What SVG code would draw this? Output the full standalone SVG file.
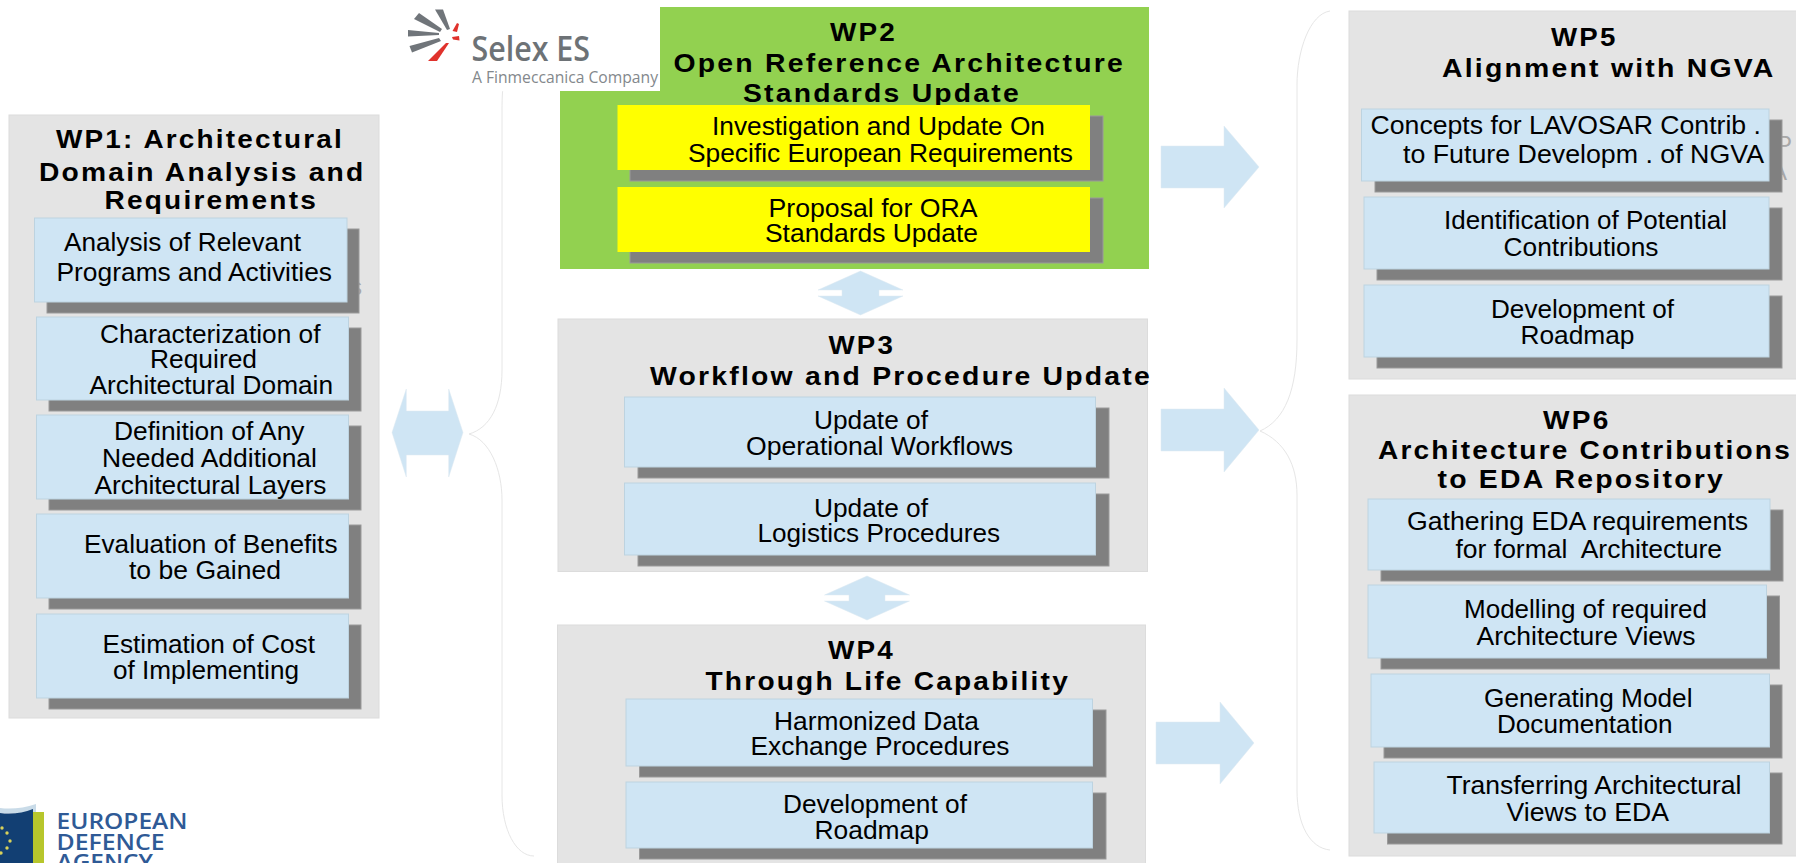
<svg xmlns="http://www.w3.org/2000/svg" width="1796" height="863" viewBox="0 0 1796 863">
<style>
text{font-family:"Liberation Sans",Arial,sans-serif;fill:#000}
.t{font-size:25.5px;font-weight:700;letter-spacing:2px}
.b{font-size:25.5px}
.panel{fill:#e4e4e4;stroke:#dcdcdc;stroke-width:1}
.box{fill:#cfe5f4;stroke:#bdd3e0;stroke-width:1}
.ybox{fill:#ffff00}
.sh{fill:#808080;stroke:#9a9a9a;stroke-width:1}
.arrow{fill:#cfe5f4;stroke:#dde9f1;stroke-width:.5}
.brace{fill:none;stroke:#e6e6e6;stroke-width:1}
.frag{font-size:24px;fill:#a8a8a8}
.logo{font-family:"Open Sans","Liberation Sans",sans-serif}
.eda{font-family:"Open Sans","Liberation Sans",sans-serif;font-size:21px;font-weight:600;fill:#2f5a96}
</style>
<rect width="1796" height="863" fill="#fff"/>

<g id="connectors">
<path class="brace" d="M534 12C514 12 502 60 502 110V370C502 405 490 428 469 434C490 440 502 470 502 500V795C502 830 516 856 534 856"/>
<path class="brace" d="M1330 11C1310 14 1297 50 1297 85V340C1297 390 1285 420 1260 431C1285 442 1297 465 1297 495V790C1297 825 1310 848 1330 850"/>
<polygon class="arrow" points="392,432.5 406.3,389 406.3,411 448.7,411 448.7,389 463,432.5 448.7,477 448.7,455 406.3,455 406.3,477"/>
<polygon class="arrow" points="860.5,271 903,290 879,290 879,296 903,296 860.5,315 818,296 842,296 842,290 818,290"/>
<polygon class="arrow" points="867,576 909.5,595 885,595 885,601 909.5,601 867,620 824.5,601 849,601 849,595 824.5,595"/>
<polygon class="arrow" points="1161,146 1224,146 1224,126 1259,167 1224,208 1224,188 1161,188"/>
<polygon class="arrow" points="1161,409 1224,409 1224,388 1259,430 1224,472 1224,451 1161,451"/>
<polygon class="arrow" points="1156,722 1220,722 1220,702 1254,743 1220,784 1220,764 1156,764"/>
</g>

<g id="wp1">
<rect class="panel" x="9" y="115" width="370" height="603"/>
<text class="t" x="56" y="147.5" textLength="288" lengthAdjust="spacingAndGlyphs">WP1: Architectural</text>
<text class="t" x="39" y="181" textLength="326.500" lengthAdjust="spacingAndGlyphs">Domain Analysis and</text>
<text class="t" x="104.500" y="209" textLength="213.500" lengthAdjust="spacingAndGlyphs">Requirements</text>
<text class="frag" x="350" y="295">s</text>
<g id="wp1-a"><rect class="sh" x="47" y="229" width="312" height="84"/><rect class="box" x="34.500" y="218" width="312.500" height="84"/>
<text class="b" x="64" y="251" textLength="237" lengthAdjust="spacingAndGlyphs">Analysis of Relevant</text>
<text class="b" x="56.500" y="281" textLength="275.500" lengthAdjust="spacingAndGlyphs">Programs and Activities</text></g>
<g id="wp1-b"><rect class="sh" x="49" y="328" width="312" height="83"/><rect class="box" x="36.500" y="317" width="312" height="83"/>
<text class="b" x="100" y="342.500" textLength="220.500" lengthAdjust="spacingAndGlyphs">Characterization of</text>
<text class="b" x="150" y="368" textLength="107" lengthAdjust="spacingAndGlyphs">Required</text>
<text class="b" x="89.500" y="394" textLength="243.500" lengthAdjust="spacingAndGlyphs">Architectural Domain</text></g>
<g id="wp1-c"><rect class="sh" x="49" y="426" width="312" height="84"/><rect class="box" x="36.500" y="415" width="312" height="84"/>
<text class="b" x="114" y="440" textLength="190.500" lengthAdjust="spacingAndGlyphs">Definition of Any</text>
<text class="b" x="102" y="466.500" textLength="215" lengthAdjust="spacingAndGlyphs">Needed Additional</text>
<text class="b" x="94.500" y="493.500" textLength="232" lengthAdjust="spacingAndGlyphs">Architectural Layers</text></g>
<g id="wp1-d"><rect class="sh" x="49" y="525" width="312" height="84"/><rect class="box" x="36.500" y="514" width="312" height="84"/>
<text class="b" x="84" y="552.500" textLength="253.500" lengthAdjust="spacingAndGlyphs">Evaluation of Benefits</text>
<text class="b" x="129" y="578.500" textLength="152" lengthAdjust="spacingAndGlyphs">to be Gained</text></g>
<g id="wp1-e"><rect class="sh" x="49" y="625" width="312" height="84"/><rect class="box" x="36.500" y="614" width="312" height="84"/>
<text class="b" x="102.500" y="652.500" textLength="212.500" lengthAdjust="spacingAndGlyphs">Estimation of Cost</text>
<text class="b" x="113" y="679" textLength="186" lengthAdjust="spacingAndGlyphs">of Implementing</text></g>
</g>

<g id="wp2">
<rect x="560" y="7" width="589" height="262" fill="#92d150"/>
<text class="t" x="830" y="40.500" textLength="67" lengthAdjust="spacingAndGlyphs">WP2</text>
<text class="t" x="673.500" y="71.500" textLength="451.500" lengthAdjust="spacingAndGlyphs">Open Reference Architecture</text>
<text class="t" x="743" y="102" textLength="278" lengthAdjust="spacingAndGlyphs">Standards Update</text>
<g id="wp2-a"><rect class="sh" x="630" y="116" width="473" height="65"/><rect class="ybox" x="617.500" y="105" width="472.500" height="65"/>
<text class="b" x="712" y="134.500" textLength="333" lengthAdjust="spacingAndGlyphs">Investigation and Update On</text>
<text class="b" x="688" y="161.500" textLength="385" lengthAdjust="spacingAndGlyphs">Specific European Requirements</text></g>
<g id="wp2-b"><rect class="sh" x="630" y="198" width="473" height="65"/><rect class="ybox" x="617.500" y="187" width="472.500" height="65"/>
<text class="b" x="768.500" y="217" textLength="209" lengthAdjust="spacingAndGlyphs">Proposal for ORA</text>
<text class="b" x="765" y="242" textLength="213" lengthAdjust="spacingAndGlyphs">Standards Update</text></g>
</g>

<g id="selex-logo">
<rect x="466" y="0" width="194" height="91" fill="#fff"/>
<rect x="402" y="0" width="64" height="70" fill="#fff"/>
<g fill="#70757a">
<polygon points="435,9.500 443,9.500 450,29 447,30"/>
<polygon points="414,19 419,13 442,29 440,32"/>
<polygon points="408,30 408,36.500 439,35 439,33"/>
<polygon points="409.500,46 412,52.500 441,41 439,38"/>
</g>
<g fill="#e0322c">
<polygon points="428,61 437,61 449,43 446,43"/>
<polygon points="452.500,31 457,23 459,24 457,32"/>
<polygon points="452,37 459,36 459.500,40.500 453,39.500"/>
</g>
<text class="logo" x="471.500" y="60.500" font-size="35" font-weight="600" style="fill:#6d7276" textLength="118.500" lengthAdjust="spacingAndGlyphs">Selex ES</text>
<text class="logo" x="472" y="83" font-size="16" style="fill:#83888c" textLength="186" lengthAdjust="spacingAndGlyphs">A Finmeccanica Company</text>
</g>

<g id="wp3">
<rect class="panel" x="558" y="319" width="589.500" height="252.500"/>
<text class="t" x="828.500" y="353.500" textLength="66.500" lengthAdjust="spacingAndGlyphs">WP3</text>
<text class="t" x="650" y="385" textLength="502" lengthAdjust="spacingAndGlyphs">Workflow and Procedure Update</text>
<g id="wp3-a"><rect class="sh" x="638" y="408" width="471" height="70"/><rect class="box" x="624.500" y="397" width="471" height="70"/>
<text class="b" x="814" y="429" textLength="114" lengthAdjust="spacingAndGlyphs">Update of</text>
<text class="b" x="746" y="455" textLength="267" lengthAdjust="spacingAndGlyphs">Operational Workflows</text></g>
<g id="wp3-b"><rect class="sh" x="638" y="494" width="471" height="72"/><rect class="box" x="624.500" y="483" width="471" height="72"/>
<text class="b" x="814" y="516.500" textLength="114" lengthAdjust="spacingAndGlyphs">Update of</text>
<text class="b" x="757.500" y="542" textLength="242.500" lengthAdjust="spacingAndGlyphs">Logistics Procedures</text></g>
</g>

<g id="wp4">
<rect class="panel" x="557.500" y="625" width="588" height="240"/>
<text class="t" x="828" y="658.500" textLength="67" lengthAdjust="spacingAndGlyphs">WP4</text>
<text class="t" x="705.500" y="690" textLength="364.500" lengthAdjust="spacingAndGlyphs">Through Life Capability</text>
<g id="wp4-a"><rect class="sh" x="639.500" y="710" width="466.500" height="67"/><rect class="box" x="626" y="699" width="466.500" height="67"/>
<text class="b" x="774" y="730" textLength="205" lengthAdjust="spacingAndGlyphs">Harmonized Data</text>
<text class="b" x="750.500" y="755" textLength="259" lengthAdjust="spacingAndGlyphs">Exchange Procedures</text></g>
<g id="wp4-b"><rect class="sh" x="639.500" y="793" width="466.500" height="66"/><rect class="box" x="626" y="782" width="466.500" height="66"/>
<text class="b" x="783" y="813" textLength="184" lengthAdjust="spacingAndGlyphs">Development of</text>
<text class="b" x="814.500" y="839" textLength="114.500" lengthAdjust="spacingAndGlyphs">Roadmap</text></g>
</g>

<g id="wp5">
<rect class="panel" x="1349" y="11" width="448" height="368"/>
<text class="t" x="1551" y="45.500" textLength="66.500" lengthAdjust="spacingAndGlyphs">WP5</text>
<text class="t" x="1442" y="77" textLength="333.500" lengthAdjust="spacingAndGlyphs">Alignment with NGVA</text>
<text class="frag" x="1776" y="153">P</text>
<text class="frag" x="1771" y="180">A</text>
<g id="wp5-a"><rect class="sh" x="1375" y="120" width="407" height="72"/><rect class="box" x="1361.500" y="109" width="407.500" height="72"/>
<text class="b" x="1370.500" y="133.500" textLength="390.500" lengthAdjust="spacingAndGlyphs">Concepts for LAVOSAR Contrib .</text>
<text class="b" x="1403" y="162.500" textLength="361" lengthAdjust="spacingAndGlyphs">to Future Developm . of NGVA</text></g>
<g id="wp5-b"><rect class="sh" x="1377" y="208" width="405" height="72"/><rect class="box" x="1364" y="197" width="405" height="72"/>
<text class="b" x="1444" y="229" textLength="283" lengthAdjust="spacingAndGlyphs">Identification of Potential</text>
<text class="b" x="1503.500" y="256" textLength="155" lengthAdjust="spacingAndGlyphs">Contributions</text></g>
<g id="wp5-c"><rect class="sh" x="1377" y="296" width="405" height="72"/><rect class="box" x="1364" y="285" width="405" height="72"/>
<text class="b" x="1491" y="317.500" textLength="183" lengthAdjust="spacingAndGlyphs">Development of</text>
<text class="b" x="1520.500" y="344" textLength="114" lengthAdjust="spacingAndGlyphs">Roadmap</text></g>
</g>

<g id="wp6">
<rect class="panel" x="1349" y="395" width="448" height="461"/>
<text class="t" x="1543" y="428.500" textLength="67.500" lengthAdjust="spacingAndGlyphs">WP6</text>
<text class="t" x="1378" y="458.500" textLength="414" lengthAdjust="spacingAndGlyphs">Architecture Contributions</text>
<text class="t" x="1437.500" y="487.500" textLength="287.500" lengthAdjust="spacingAndGlyphs">to EDA Repository</text>
<g id="wp6-a"><rect class="sh" x="1381" y="510" width="402" height="71"/><rect class="box" x="1368" y="499" width="402" height="71"/>
<text class="b" x="1407" y="530" textLength="341" lengthAdjust="spacingAndGlyphs">Gathering EDA requirements</text>
<text class="b" x="1455.500" y="557.500" textLength="266.500" lengthAdjust="spacingAndGlyphs" xml:space="preserve">for formal  Architecture</text></g>
<g id="wp6-b"><rect class="sh" x="1381" y="596" width="398.500" height="73"/><rect class="box" x="1368" y="585" width="398.500" height="73"/>
<text class="b" x="1464" y="618" textLength="243" lengthAdjust="spacingAndGlyphs">Modelling of required</text>
<text class="b" x="1476.500" y="645" textLength="219" lengthAdjust="spacingAndGlyphs">Architecture Views</text></g>
<g id="wp6-c"><rect class="sh" x="1384" y="685" width="398" height="73"/><rect class="box" x="1371" y="674" width="398.500" height="73"/>
<text class="b" x="1484" y="706.500" textLength="208.500" lengthAdjust="spacingAndGlyphs">Generating Model</text>
<text class="b" x="1497" y="732.500" textLength="175.500" lengthAdjust="spacingAndGlyphs">Documentation</text></g>
<g id="wp6-d"><rect class="sh" x="1387.500" y="773" width="394.500" height="71"/><rect class="box" x="1374" y="762" width="395.500" height="71"/>
<text class="b" x="1446.500" y="794" textLength="295" lengthAdjust="spacingAndGlyphs">Transferring Architectural</text>
<text class="b" x="1506.500" y="820.500" textLength="162.500" lengthAdjust="spacingAndGlyphs">Views to EDA</text></g>
</g>

<g id="eda-logo">
<path d="M0 808Q18 810 36 804V813H0Z" fill="#c9dbe8"/>
<path d="M0 813Q18 815 33 809V863H0Z" fill="#123f73"/>
<rect x="33" y="812" width="11" height="51" fill="#b7c62c"/>
<g fill="#d9d25a">
<circle cx="2" cy="828" r="1.700"/><circle cx="7" cy="833" r="1.700"/><circle cx="10" cy="841" r="1.700"/><circle cx="7" cy="848" r="1.700"/><circle cx="1" cy="853" r="1.700"/>
</g>
<text class="eda" x="56.500" y="829" textLength="131" lengthAdjust="spacingAndGlyphs">EUROPEAN</text>
<text class="eda" x="56.500" y="850" textLength="108" lengthAdjust="spacingAndGlyphs">DEFENCE</text>
<text class="eda" x="56.500" y="870" textLength="96.500" lengthAdjust="spacingAndGlyphs">AGENCY</text>
</g>
</svg>
